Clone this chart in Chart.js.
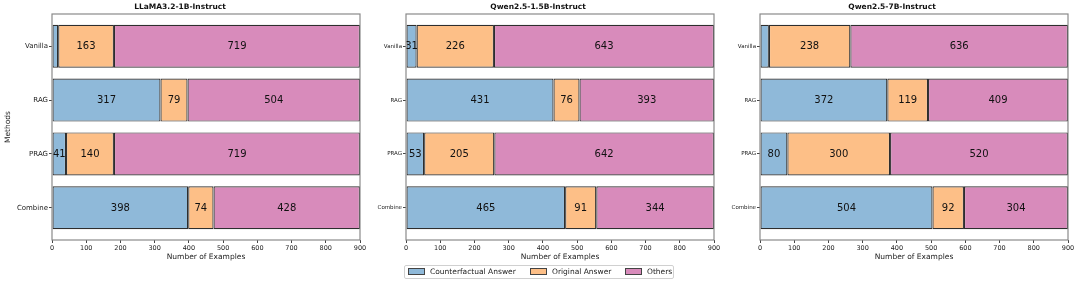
<!DOCTYPE html>
<html>
<head>
<meta charset="utf-8">
<script src="https://cdn.jsdelivr.net/npm/chart.js@4.4.1/dist/chart.umd.min.js"></script>
<style>
  body { margin: 0; background: #fff; font-family: "DejaVu Sans", sans-serif; }
  #page { position: relative; width: 1079px; height: 283px; overflow: hidden; }
  .panel { position: absolute; top: 0; height: 262px; }
  #legend {
    position: absolute; left: 404px; top: 265px; width: 268px; height: 12px;
    border: 1px solid #d0d0d0; border-radius: 2px; font-size: 7.5px; color: #222;
  }
  #legend .item { position: absolute; top: 0; line-height: 12px; white-space: nowrap; }
  #legend .sw { display: inline-block; width: 15px; height: 5px; border: 1px solid #444; vertical-align: -1px; margin-right: 5px; }
</style>
</head>
<body>
<div id="page">
  <div class="panel" style="left:0;width:368px"><canvas id="c0"></canvas></div>
  <div class="panel" style="left:362px;width:360px"><canvas id="c1"></canvas></div>
  <div class="panel" style="left:716px;width:360px"><canvas id="c2"></canvas></div>
  <div id="legend"></div>
</div>
<script>
const methods = ["Vanilla", "RAG", "PRAG", "Combine"];
const seriesNames = ["Counterfactual Answer", "Original Answer", "Others"];
const colors = ["#8fb9d9", "#fdbf87", "#d88bbb"];
const models = ["LLaMA3.2-1B-Instruct", "Qwen2.5-1.5B-Instruct", "Qwen2.5-7B-Instruct"];
const xTicks = [0, 100, 200, 300, 400, 500, 600, 700, 800, 900];

// per model: [counterfactual, original, others] for each method
const llamaCounter = [18, 317, 41, 398];
const llamaOriginal = [163, 79, 140, 74];
const llamaOthers = [719, 504, 719, 428];
const qwen15Counter = [31, 431, 53, 465];
const qwen15Original = [226, 76, 205, 91];
const qwen15Others = [643, 393, 642, 344];
const qwen7Counter = [26, 372, 80, 504];
const qwen7Original = [238, 119, 300, 92];
const qwen7Others = [636, 409, 520, 304];

const modelData = [
  [llamaCounter, llamaOriginal, llamaOthers],
  [qwen15Counter, qwen15Original, qwen15Others],
  [qwen7Counter, qwen7Original, qwen7Others]
];

const FONT = "'DejaVu Sans', sans-serif";

// full box around plot area like matplotlib spines
const frame = {
  id: "frame",
  afterDraw(chart) {
    const a = chart.chartArea, ctx = chart.ctx;
    ctx.save();
    ctx.strokeStyle = "#8a8a8a";
    ctx.lineWidth = 1.2;
    ctx.strokeRect(a.left, a.top, a.right - a.left, a.bottom - a.top);
    ctx.restore();
  }
};

// value labels centered in each segment
const valueLabels = {
  id: "valueLabels",
  afterDatasetsDraw(chart) {
    const ctx = chart.ctx;
    ctx.save();
    ctx.font = "10px " + FONT;
    ctx.fillStyle = "#111";
    ctx.textAlign = "center";
    ctx.textBaseline = "middle";
    chart.data.datasets.forEach((ds, di) => {
      chart.getDatasetMeta(di).data.forEach((el, i) => {
        const v = ds.data[i].x;
        if (v < 30) return;
        ctx.fillText(String(v), (el.x + el.base) / 2, el.y + 0.5);
      });
    });
    ctx.restore();
  }
};

function makeChart(idx) {
  const first = idx === 0;
  const yWidth = first ? 52 : 44;
  const tickSize = first ? 7 : 5.5;
  new Chart(document.getElementById("c" + idx), {
    type: "bar",
    data: {
      datasets: seriesNames.map((name, s) => ({
        label: name,
        data: modelData[idx][s].map((v, i) => ({ x: v, y: i })),
        backgroundColor: colors[s],
        borderColor: "#2e2e2e",
        borderWidth: 1.2,
        borderSkipped: false,
        barPercentage: 0.8,
        categoryPercentage: 1.0
      }))
    },
    options: {
      indexAxis: "y",
      responsive: true,
      maintainAspectRatio: false,
      animation: false,
      layout: { padding: { left: 0, right: 8, top: 0, bottom: 0 } },
      plugins: {
        legend: { display: false },
        tooltip: { enabled: false },
        title: {
          display: true,
          text: models[idx],
          color: "#111",
          font: { family: FONT, size: 7.5, weight: "bold" },
          padding: { top: 3, bottom: 2 }
        }
      },
      scales: {
        x: {
          type: "linear",
          stacked: true,
          min: 0,
          max: 900,
          afterBuildTicks(scale) { scale.ticks = xTicks.map(v => ({ value: v })); },
          afterFit(scale) { scale.height = 22; },
          grid: { drawOnChartArea: false, drawTicks: true, tickLength: 3, color: "#444" },
          border: { display: false },
          ticks: { font: { family: FONT, size: 6.5 }, color: "#222", padding: 1, maxRotation: 0 },
          title: {
            display: true,
            text: "Number of Examples",
            color: "#222",
            font: { family: FONT, size: 7.5 },
            padding: { top: 0, bottom: 0 }
          }
        },
        y: {
          type: "linear",
          stacked: true,
          reverse: true,
          offset: false,
          min: -0.6,
          max: 3.6,
          afterFit(scale) { scale.width = yWidth; },
          grid: { offset: false, drawOnChartArea: false, drawTicks: true, tickLength: 3, color: "#444" },
          border: { display: false },
          ticks: {
            stepSize: 1,
            includeBounds: false,
            font: { family: FONT, size: tickSize },
            color: "#222",
            padding: 1,
            callback: v => methods[v]
          },
          title: {
            display: first,
            text: "Methods",
            color: "#222",
            font: { family: FONT, size: 7.5 },
            padding: { top: 4, bottom: 0 }
          }
        }
      }
    },
    plugins: [frame, valueLabels]
  });
}

models.forEach((m, i) => makeChart(i));

// legend
const legend = document.getElementById("legend");
const legendX = [3, 125, 220];
seriesNames.forEach((name, s) => {
  const item = document.createElement("div");
  item.className = "item";
  item.style.left = legendX[s] + "px";
  item.innerHTML = `<span class="sw" style="background:${colors[s]}"></span>${name}`;
  legend.appendChild(item);
});
</script>
</body>
</html>
